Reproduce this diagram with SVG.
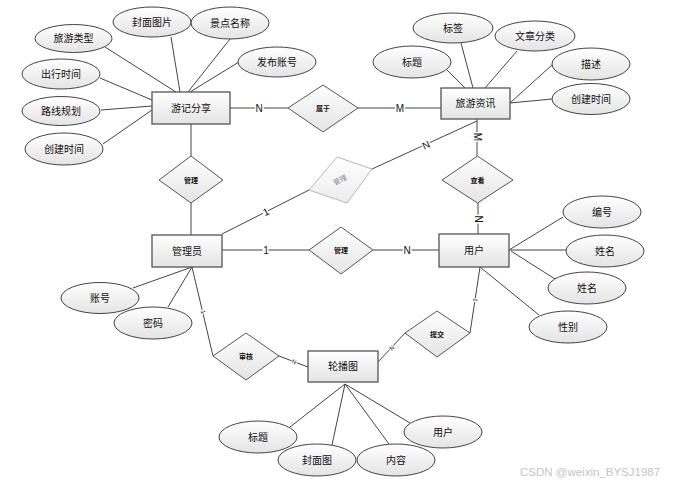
<svg xmlns="http://www.w3.org/2000/svg" width="674" height="487" viewBox="0 0 674 487">
<defs>
<linearGradient id="g" x1="0" y1="0" x2="0" y2="1"><stop offset="0" stop-color="#ffffff"/><stop offset="1" stop-color="#e4e4e4"/></linearGradient>
<linearGradient id="g2" x1="0" y1="0" x2="0" y2="1"><stop offset="0" stop-color="#ffffff"/><stop offset="1" stop-color="#ececec"/></linearGradient>
<style>
.e{fill:url(#g);stroke:#444;stroke-width:1}
.r{fill:url(#g);stroke:#555;stroke-width:1.3}
.d{fill:url(#g);stroke:#555;stroke-width:1}
.dg{fill:url(#g2);stroke:#b8b8b8;stroke-width:1}
.t{font-family:"Liberation Sans","Noto Sans CJK SC",sans-serif;font-size:10px;fill:#111;text-anchor:middle;dominant-baseline:central}
.s{font-family:"Liberation Sans","Noto Sans CJK SC",sans-serif;font-size:7px;font-weight:bold;fill:#111;text-anchor:middle;dominant-baseline:central}
.c{font-family:"Liberation Sans","Noto Sans CJK SC",sans-serif;font-size:10px;fill:#111;text-anchor:middle;dominant-baseline:central;paint-order:stroke;stroke:#fff;stroke-width:3}
.ct{font-family:"Liberation Sans",sans-serif;font-size:6px;fill:#111;text-anchor:middle;dominant-baseline:central;paint-order:stroke;stroke:#fff;stroke-width:2}
.l{stroke:#444;stroke-width:1;fill:none}
</style>
</defs>
<rect width="674" height="487" fill="#fff"/>
<g id="connectors">
<line class="l" x1="105" y1="47" x2="176" y2="92"/>
<line class="l" x1="171" y1="37" x2="180" y2="92"/>
<line class="l" x1="230" y1="39" x2="188" y2="92"/>
<line class="l" x1="239" y1="62" x2="190" y2="92"/>
<line class="l" x1="100" y1="78" x2="152" y2="100"/>
<line class="l" x1="101" y1="110" x2="152" y2="106"/>
<line class="l" x1="103" y1="144" x2="152" y2="110"/>
<line class="l" x1="230" y1="108" x2="288" y2="108"/>
<line class="l" x1="358" y1="108" x2="441" y2="108"/>
<line class="l" x1="447" y1="70" x2="465" y2="88"/>
<line class="l" x1="461" y1="43" x2="473" y2="88"/>
<line class="l" x1="517" y1="51" x2="485" y2="88"/>
<line class="l" x1="552" y1="65" x2="510" y2="103"/>
<line class="l" x1="552" y1="99" x2="510" y2="103"/>
<line class="l" x1="477" y1="119" x2="477" y2="156"/>
<line class="l" x1="477" y1="121" x2="372" y2="169"/>
<line class="l" x1="191" y1="124" x2="191" y2="156"/>
<line class="l" x1="191" y1="203" x2="191" y2="235"/>
<line class="l" x1="222" y1="234" x2="309" y2="190"/>
<line class="l" x1="222" y1="250" x2="309" y2="250"/>
<line class="l" x1="373" y1="250" x2="439" y2="250"/>
<line class="l" x1="478" y1="203" x2="478" y2="234"/>
<line class="l" x1="133" y1="288" x2="192" y2="267"/>
<line class="l" x1="168" y1="307" x2="192" y2="267"/>
<line class="l" x1="563" y1="217" x2="509" y2="250"/>
<line class="l" x1="566" y1="250" x2="509" y2="250"/>
<line class="l" x1="555" y1="279" x2="511" y2="251"/>
<line class="l" x1="539" y1="315" x2="480" y2="267"/>
<line class="l" x1="192" y1="267" x2="213" y2="356"/>
<line class="l" x1="279" y1="356" x2="308" y2="367"/>
<line class="l" x1="378" y1="362" x2="405" y2="333"/>
<line class="l" x1="470" y1="333" x2="480" y2="267"/>
<line class="l" x1="345" y1="384" x2="290" y2="427"/>
<line class="l" x1="345" y1="384" x2="332" y2="445"/>
<line class="l" x1="345" y1="384" x2="389" y2="444"/>
<line class="l" x1="345" y1="384" x2="410" y2="423"/>
<text class="c" x="259" y="108">N</text>
<text class="c" x="400" y="108">M</text>
<text class="c" transform="translate(477,137) rotate(90)">M</text>
<text class="c" transform="translate(426,145) rotate(-24.6)">N</text>
<text class="c" transform="translate(266,212) rotate(-26.3)">1</text>
<text class="c" x="266" y="250">1</text>
<text class="c" x="407" y="250">N</text>
<text class="c" transform="translate(478,219) rotate(90)">N</text>
<text class="ct" transform="translate(203,312) rotate(76.7)">1</text>
<text class="ct" transform="translate(294,362) rotate(20.8)">N</text>
<text class="ct" transform="translate(392,348) rotate(-47)">N</text>
<text class="ct" transform="translate(475,300) rotate(-81)">1</text>
</g>
<g id="n-youji"><rect class="r" x="152" y="92" width="78" height="32"/><text class="t" x="191" y="108">游记分享</text></g>
<g id="n-zixun"><rect class="r" x="441" y="88" width="69" height="31"/><text class="t" x="475.5" y="103.5">旅游资讯</text></g>
<g id="n-admin"><rect class="r" x="152" y="235" width="70" height="32"/><text class="t" x="187" y="251">管理员</text></g>
<g id="n-user"><rect class="r" x="439" y="234" width="70" height="33"/><text class="t" x="474" y="250.5">用户</text></g>
<g id="n-lunbo"><rect class="r" x="308" y="351" width="70" height="31"/><text class="t" x="343" y="366.5">轮播图</text></g>
<g id="a-lvyouleixing"><ellipse class="e" cx="73.5" cy="38.5" rx="38.5" ry="14"/><text class="t" x="73.5" y="38.5">旅游类型</text></g>
<g id="a-fengmiantupian"><ellipse class="e" cx="152" cy="22" rx="39" ry="15"/><text class="t" x="152" y="22">封面图片</text></g>
<g id="a-jingdian"><ellipse class="e" cx="230" cy="23" rx="39" ry="16"/><text class="t" x="230" y="23">景点名称</text></g>
<g id="a-fabu"><ellipse class="e" cx="277" cy="62" rx="39" ry="15"/><text class="t" x="277" y="62">发布账号</text></g>
<g id="a-chuxing"><ellipse class="e" cx="61" cy="74" rx="39" ry="15"/><text class="t" x="61" y="74">出行时间</text></g>
<g id="a-luxian"><ellipse class="e" cx="61" cy="111" rx="39" ry="14.5"/><text class="t" x="61" y="111">路线规划</text></g>
<g id="a-chuangjian1"><ellipse class="e" cx="64" cy="149" rx="39" ry="16"/><text class="t" x="64" y="149">创建时间</text></g>
<g id="a-biaoqian"><ellipse class="e" cx="453" cy="28" rx="40" ry="15"/><text class="t" x="453" y="28">标签</text></g>
<g id="a-wenzhang"><ellipse class="e" cx="535" cy="36" rx="40" ry="15"/><text class="t" x="535" y="36">文章分类</text></g>
<g id="a-biaoti1"><ellipse class="e" cx="412" cy="62" rx="39" ry="16"/><text class="t" x="412" y="62">标题</text></g>
<g id="a-miaoshu"><ellipse class="e" cx="591" cy="64" rx="39" ry="16"/><text class="t" x="591" y="64">描述</text></g>
<g id="a-chuangjian2"><ellipse class="e" cx="591" cy="99" rx="39" ry="15.5"/><text class="t" x="591" y="99">创建时间</text></g>
<g id="a-zhanghao"><ellipse class="e" cx="100" cy="298" rx="39" ry="15.5"/><text class="t" x="100" y="298">账号</text></g>
<g id="a-mima"><ellipse class="e" cx="153" cy="323" rx="39" ry="16"/><text class="t" x="153" y="323">密码</text></g>
<g id="a-bianhao"><ellipse class="e" cx="602" cy="212" rx="39" ry="16"/><text class="t" x="602" y="212">编号</text></g>
<g id="a-xingming1"><ellipse class="e" cx="605" cy="251" rx="39" ry="16"/><text class="t" x="605" y="251">姓名</text></g>
<g id="a-xingming2"><ellipse class="e" cx="587" cy="288" rx="39" ry="16"/><text class="t" x="587" y="288">姓名</text></g>
<g id="a-xingbie"><ellipse class="e" cx="568" cy="327" rx="39" ry="16"/><text class="t" x="568" y="327">性别</text></g>
<g id="a-biaoti2"><ellipse class="e" cx="258" cy="437" rx="39" ry="16"/><text class="t" x="258" y="437">标题</text></g>
<g id="a-fengmiantu"><ellipse class="e" cx="317" cy="460" rx="39" ry="16"/><text class="t" x="317" y="460">封面图</text></g>
<g id="a-neirong"><ellipse class="e" cx="396" cy="460" rx="39" ry="16"/><text class="t" x="396" y="460">内容</text></g>
<g id="a-yonghu"><ellipse class="e" cx="443" cy="432" rx="39" ry="16"/><text class="t" x="443" y="432">用户</text></g>
<g id="r-shuyu"><polygon class="d" points="288,108 323,85 358,108 323,132"/><text class="s" x="323" y="108">属于</text></g>
<g id="r-guanli1"><polygon class="d" points="159,180 191,156 223,180 191,203"/><text class="s" x="191" y="180">管理</text></g>
<g id="r-guanli2"><polygon class="dg" points="309,190 337,157 372,169 347,203"/><text class="s" style="fill:#888;font-weight:normal" transform="translate(340,180) rotate(-25)">管理</text></g>
<g id="r-chakan"><polygon class="d" points="442,180 477.5,156 513,180 477.5,203"/><text class="s" x="477.5" y="180">查看</text></g>
<g id="r-guanli3"><polygon class="d" points="309,250 341,227 373,250 341,274"/><text class="s" x="341" y="250">管理</text></g>
<g id="r-shenhe"><polygon class="d" points="213,356 246,333 279,356 246,380"/><text class="s" x="246" y="356">审核</text></g>
<g id="r-tijiao"><polygon class="d" points="405,333 437,311 470,333 437,357"/><text class="s" x="437" y="334">提交</text></g>
<text x="590" y="472" style="font-family:'Liberation Sans',sans-serif;font-size:11.5px;fill:#c4c4c4;text-anchor:middle;dominant-baseline:central">CSDN @weixin_BYSJ1987</text>
</svg>
